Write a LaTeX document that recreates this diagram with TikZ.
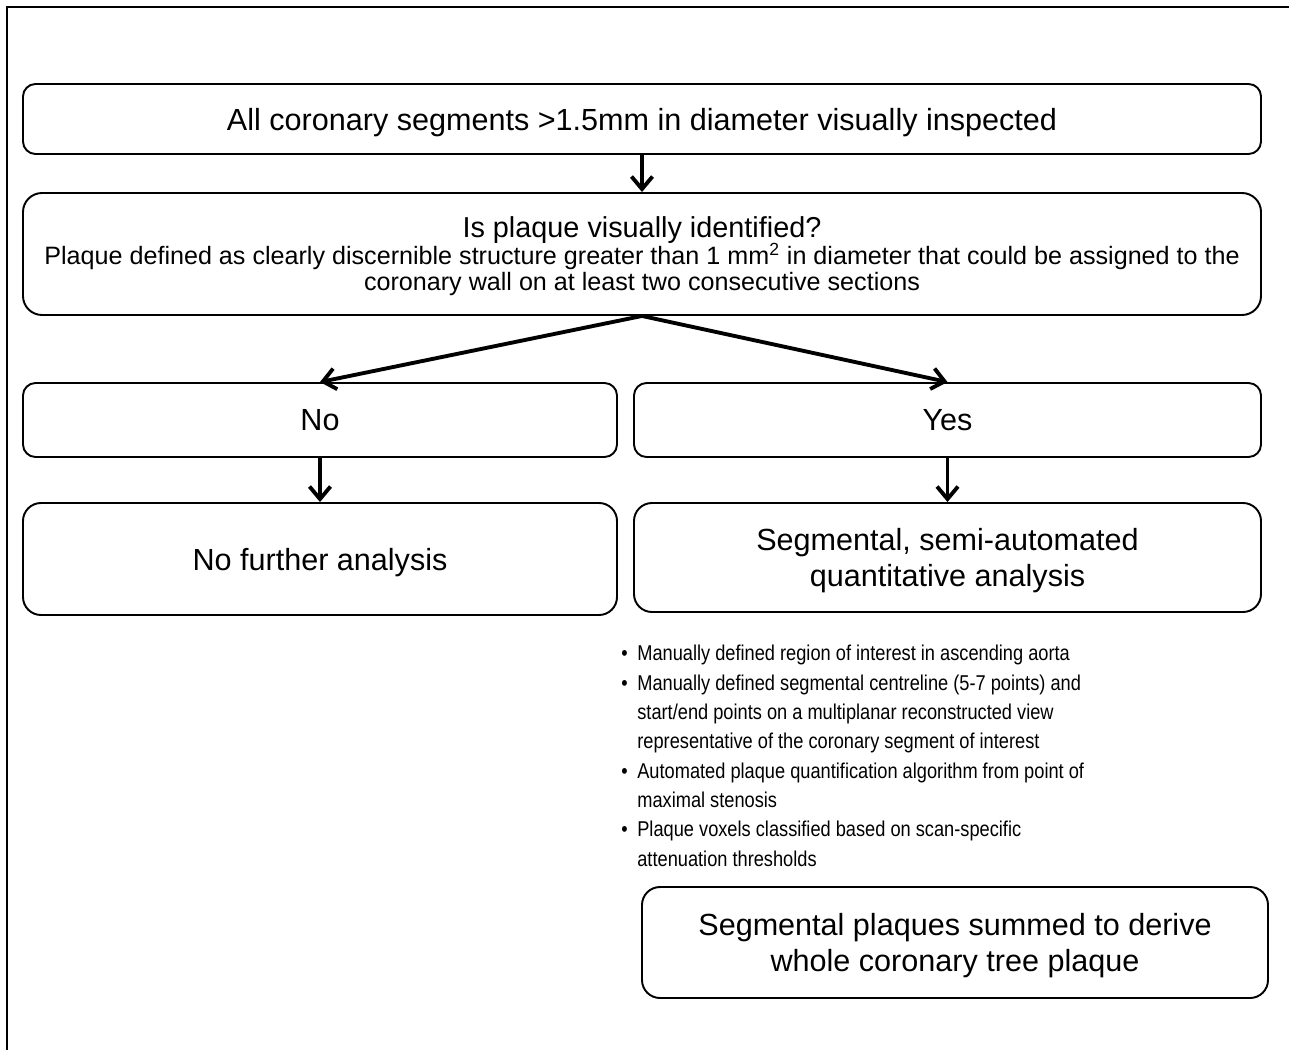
\documentclass[tikz,border=0pt]{standalone}
\usepackage{fontspec}
\setmainfont{Liberation Sans}
\newfontfamily\narrowfont[FakeStretch=0.85]{Liberation Sans}
\usetikzlibrary{arrows.meta}

\newcommand{\boxfont}{\fontsize{17.4pt}{20.6pt}\selectfont}
\newcommand{\askfont}{\fontsize{16.4pt}{19pt}\selectfont}
\newcommand{\notefont}{\fontsize{14.3pt}{14.8pt}\selectfont}
\newcommand{\listfont}{\narrowfont\fontsize{12.2pt}{16.7pt}\selectfont}
\newcommand{\itm}{\makebox[0.32cm][l]{\textbullet}}
\newcommand{\cnt}{\hspace*{0.32cm}}

\tikzset{
  box/.style={draw,line width=1.1pt,rounded corners=0.25cm,align=center,
              inner sep=0pt,text depth=0pt,font=\boxfont},
  flow/.style={-{Straight Barb[length=0.25cm,width=0.42cm]},line width=2.2pt},
}

\begin{document}
\begin{tikzpicture}
  \useasboundingbox (0,0) rectangle (25.78,21);
  % frame
  \draw[line width=1.7pt] (25.78,20.86) -- (0.14,20.86) -- (0.14,0);

  \node[box,minimum width=24.76cm,minimum height=1.4cm] (start) at (12.84,18.62)
    {All coronary segments >1.5mm in diameter visually inspected};
  \node[box,rounded corners=0.38cm,minimum width=24.76cm,minimum height=2.44cm,
        font=\notefont] (plaque) at (12.84,15.92)
    {{\askfont Is plaque visually identified?}\\[-1.2pt]
     Plaque defined as clearly discernible structure greater than 1 mm\textsuperscript{2} in diameter that could be assigned to the\\
     coronary wall on at least two consecutive sections};

  \node[box,minimum width=11.88cm,minimum height=1.48cm] (no) at (6.40,12.60) {No};
  \node[box,minimum width=12.54cm,minimum height=1.48cm] (yes) at (18.95,12.60) {Yes};

  \node[box,rounded corners=0.36cm,minimum width=11.88cm,minimum height=2.24cm]
    (nofurther) at (6.40,9.82) {No further analysis};
  \node[box,rounded corners=0.36cm,minimum width=12.54cm,minimum height=2.18cm]
    (semi) at (18.95,9.85) {Segmental, semi-automated\\quantitative analysis};

  \node[anchor=north west,align=left,inner sep=0pt,font=\listfont] (steps) at (12.42,8.10)
    {\itm Manually defined region of interest in ascending aorta\\
     \itm Manually defined segmental centreline (5-7 points) and\\
     \cnt start/end points on a multiplanar reconstructed view\\
     \cnt representative of the coronary segment of interest\\
     \itm Automated plaque quantification algorithm from point of\\
     \cnt maximal stenosis\\
     \itm Plaque voxels classified based on scan-specific\\
     \cnt attenuation thresholds};

  \node[box,rounded corners=0.36cm,minimum width=12.52cm,minimum height=2.22cm]
    (summed) at (19.10,2.15) {Segmental plaques summed to derive\\whole coronary tree plaque};

  \draw[flow] (start) -- (plaque);
  \draw[flow] (plaque.south) -- (no.north);
  \draw[flow] (plaque.south) -- (yes.north);
  \draw[flow] (no) -- (nofurther);
  \draw[flow] (yes) -- (semi);
\end{tikzpicture}
\end{document}
